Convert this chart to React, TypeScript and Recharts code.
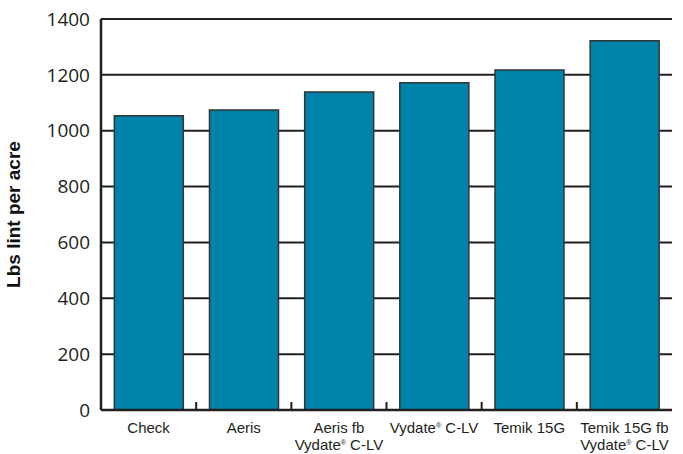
import React from "react";
import { BarChart, Bar, XAxis, YAxis, CartesianGrid } from "recharts";

const categories = ["Check", "Aeris", "Aeris fb", "Vydate® C-LV", "Temik 15G", "Temik 15G fb"];
const secondLines = ["", "", "Vydate® C-LV", "", "", "Vydate® C-LV"];
const lintYield = [1054, 1074, 1139, 1172, 1217, 1322];
const yTicks = [0, 200, 400, 600, 800, 1000, 1200, 1400];

const data = categories.map((c, i) => ({ name: c, line2: secondLines[i], value: lintYield[i] }));

const INK = "#231f20";
const BAR = "#0083a9";

const withReg = (s: string) => {
  const parts = s.split("®");
  const out: React.ReactNode[] = [];
  parts.forEach((p, i) => {
    out.push(
      <tspan key={"p" + i} dy={i > 0 ? 5 : undefined}>
        {p}
      </tspan>
    );
    if (i < parts.length - 1) {
      out.push(
        <tspan key={"r" + i} fontSize={7} dy={-5}>
          ®
        </tspan>
      );
    }
  });
  return out;
};

const CategoryTick = (props: any) => {
  const { x, y, payload, index, width, visibleTicksCount } = props;
  const half =
    payload && typeof payload.offset === "number" && payload.offset > 0
      ? payload.offset
      : width / visibleTicksCount / 2;
  const l2 = secondLines[index];
  return (
    <g>
      {index < categories.length - 1 && (
        <line x1={x + half} x2={x + half} y1={y - 8} y2={y} stroke={INK} strokeWidth={2} />
      )}
      <text
        x={x}
        y={y + 23}
        textAnchor="middle"
        fontFamily="'Liberation Sans', Arial, sans-serif"
        fontSize={15}
        fill={INK}
      >
        {withReg(payload.value)}
      </text>
      {l2 ? (
        <text
          x={x}
          y={y + 40}
          textAnchor="middle"
          fontFamily="'Liberation Sans', Arial, sans-serif"
          fontSize={15}
          fill={INK}
        >
          {withReg(l2)}
        </text>
      ) : null}
    </g>
  );
};

export default function App() {
  return (
    <div style={{ position: "absolute", left: 0, top: 0, background: "#fff" }}>
      <BarChart
        width={683}
        height={454}
        data={data}
        margin={{ top: 19, right: 11, bottom: 0, left: 0 }}
        barCategoryGap="14%"
      >
        <CartesianGrid vertical={false} stroke={INK} strokeWidth={2} />
        <XAxis
          dataKey="name"
          height={44}
          axisLine={{ stroke: INK, strokeWidth: 2.5 }}
          tickLine={false}
          tickSize={0}
          tickMargin={0}
          interval={0}
          tick={<CategoryTick />}
        />
        <YAxis
          width={101}
          domain={[0, 1400]}
          ticks={yTicks}
          interval={0}
          axisLine={{ stroke: INK, strokeWidth: 2.5 }}
          tickLine={false}
          tickSize={0}
          tickMargin={11}
          tick={{ fill: INK, fontSize: 19, fontFamily: "'Open Sans', sans-serif" }}
          label={{
            value: "Lbs lint per acre",
            angle: -90,
            position: "insideLeft",
            dx: 8,
            fill: "#111",
            fontSize: 19,
            fontWeight: "bold",
            fontFamily: "'Liberation Sans', Arial, sans-serif",
            style: { textAnchor: "middle" },
          }}
        />
        <YAxis
          yAxisId="r"
          orientation="right"
          width={0}
          domain={[0, 1400]}
          ticks={yTicks}
          tick={false}
          tickLine={false}
          axisLine={{ stroke: INK, strokeWidth: 2.5 }}
        />
        <Bar dataKey="value" fill={BAR} stroke="#333" strokeWidth={1.5} isAnimationActive={false} />
      </BarChart>
    </div>
  );
}
